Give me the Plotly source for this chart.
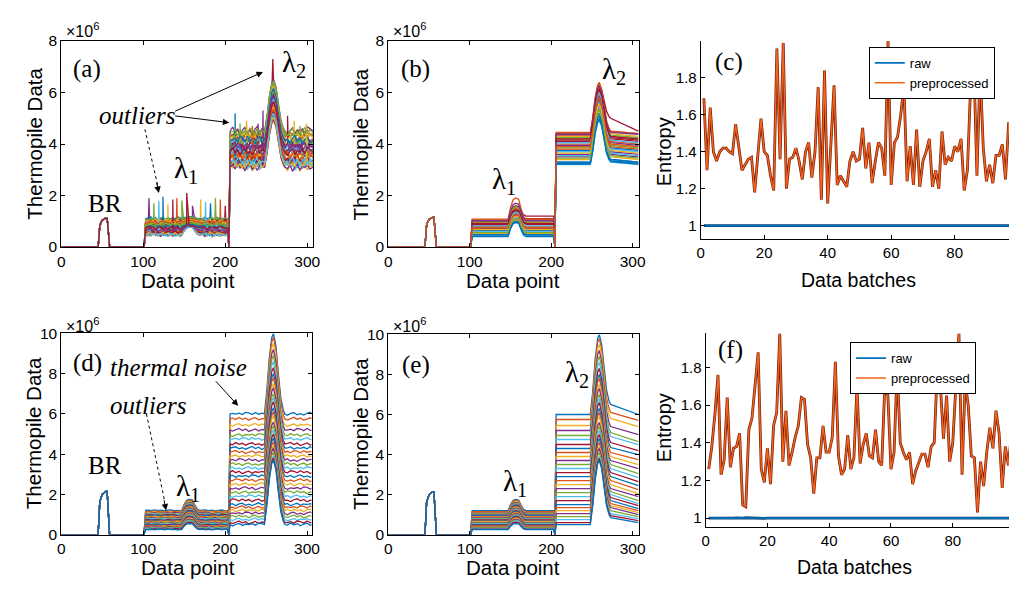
import plotly.graph_objects as go

W, H = 1018, 596
COLORS = ["#0072BD", "#D95319", "#EDB120", "#7E2F8E", "#77AC30", "#4DBEEE", "#A2142F"]
SANS = "Liberation Sans, Arial, sans-serif"
SERIF = "Liberation Serif, Times New Roman, serif"

# ---------------- shape templates ----------------
BR_X = [0, 45, 47, 50, 54, 56, 57.5, 59, 101]
BR_F = [0, 0, 0.75, 0.93, 1.0, 1.0, 0.5, 0, 0]
BUMP_X = [147, 150, 153, 156, 160, 163, 166, 169]
BUMP_F = [0, 0.55, 0.9, 1.0, 0.95, 0.5, 0.12, 0]
PEAK_X = [248, 251, 254, 257, 259, 262, 265, 268, 271]
PEAK_F = [0, 0.3, 0.7, 0.95, 1.0, 0.85, 0.5, 0.2, 0.05]
WIG = [0.6, -0.4, 0.9, -0.2, 0.5, -0.8, 0.3, 0.8, -0.5, 0.2, -0.7, 0.4,
       1.0, -0.3, 0.6, -0.9, 0.1, 0.7, -0.6, 0.3, -0.1, 0.5, -0.4, 0.9]

# ---------------- panel (a): raw data with outliers ----------------
a_BR = 1.12
a_L1 = [0.62, 0.95, 0.48, 1.05, 0.75, 0.55, 0.88, 1.10, 0.68, 0.45, 0.98, 0.58, 0.82, 1.02, 0.50, 0.72, 0.92, 0.65,
        1.08, 0.52, 0.85, 0.78, 0.60, 1.00, 0.47, 0.90, 0.70, 0.56, 0.80, 0.96, 0.50, 0.66, 0.86, 0.46, 0.74]
a_B1 = [0.78, 1.03, 0.78, 1.13, 0.83, 0.78, 0.96, 1.18, 0.78, 0.78, 1.06, 0.78, 0.90, 1.10, 0.78, 0.80, 1.00, 0.78,
        1.16, 0.78, 0.93, 0.86, 0.78, 1.08, 0.78, 0.98, 0.78, 0.78, 0.88, 1.04, 0.78, 0.78, 0.94, 0.78, 0.82]
a_L2 = [3.80, 4.40, 3.20, 4.10, 3.60, 3.30, 4.30, 3.90, 3.50, 3.10, 4.50, 3.40, 4.00, 3.70, 3.25, 4.20, 3.55, 3.85,
        4.35, 3.15, 3.95, 3.65, 3.45, 4.25, 3.10, 4.05, 3.75, 3.35, 4.15, 3.60, 3.20, 3.90, 4.45, 3.30, 3.70]
a_P2 = [5.80, 6.40, 5.00, 6.10, 5.50, 5.20, 6.30, 5.90, 5.40, 4.90, 6.50, 5.30, 6.00, 5.70, 5.10, 6.20, 5.45, 5.85,
        6.35, 5.00, 5.95, 5.60, 5.35, 6.25, 4.95, 6.05, 5.75, 5.25, 6.15, 5.55, 5.05, 5.90, 6.45, 5.20, 5.65]
a_spike_x = [107, 113, 119, 124, 130, 136, 141, 147, 153, 160, 170, 176, 182, 188, 194, 200,
             212, 218, 226, 233, 240, 246, 276, 284, 291, 299, 258]
a_spike_y = [1.90, 1.70, 1.80, 1.95, 1.65, 1.85, 1.90, 1.80, 2.10, 1.60, 1.85, 1.75, 1.70, 1.90, 1.85, 1.60,
             5.20, 4.80, 4.90, 4.70, 4.80, 5.30, 5.10, 4.90, 4.70, 4.80, 7.30]
a_spike_curve = [3, 11, 19, 21, 9, 27, 15, 4, 34, 10, 2, 26, 7, 18, 8, 13,
                 14, 25, 23, 29, 17, 24, 20, 16, 32, 30, 6]

# ---------------- panel (b): preprocessed ----------------
b_BR = 1.15
b_L1 = [0.45, 1.05, 0.70, 0.55, 0.90, 0.62, 1.00, 0.50, 0.80, 0.95, 0.58, 0.75, 0.42, 0.85, 0.65,
        1.08, 0.52, 0.72, 0.98, 0.60, 0.88, 0.48, 0.78, 0.68, 1.02, 0.56, 0.82, 0.92, 0.40, 0.74]
b_B1 = [1.30, 1.50, 1.20, 1.10, 1.40, 1.25, 1.60, 1.00, 1.35, 1.45, 1.15, 1.30, 1.00, 1.40, 1.20,
        1.90, 1.05, 1.25, 1.55, 1.15, 1.40, 1.00, 1.30, 1.20, 1.70, 1.10, 1.35, 1.45, 0.95, 1.25]
b_late = [0.45, 1.05, 0.70, 0.55, 0.90, 0.62, 1.20, 0.50, 0.80, 0.95, 0.58, 0.75, 0.42, 1.10, 0.65,
          1.08, 0.52, 0.72, 0.98, 0.60, 0.88, 0.48, 0.78, 0.68, 1.02, 0.56, 0.82, 0.92, 0.40, 0.74]
b_L2 = [3.30, 4.45, 3.90, 3.50, 4.20, 3.70, 4.35, 3.25, 4.00, 4.30, 3.60, 3.85, 3.20, 4.10, 3.75,
        4.40, 3.40, 3.95, 4.25, 3.55, 4.15, 3.30, 3.80, 3.65, 4.38, 3.45, 4.05, 4.20, 3.22, 3.90]
b_P2 = [5.20, 6.40, 5.90, 5.40, 6.10, 5.60, 6.30, 5.00, 5.95, 6.20, 5.50, 5.80, 4.90, 6.05, 5.70,
        6.35, 5.30, 5.85, 6.15, 5.45, 6.10, 5.10, 5.75, 5.55, 6.25, 5.35, 6.00, 6.15, 4.95, 5.80]
b_L3a = [3.40, 4.50, 4.00, 3.60, 4.30, 3.80, 5.00, 3.35, 4.10, 4.40, 3.70, 3.95, 3.30, 4.20, 3.85,
         4.50, 3.50, 4.05, 4.35, 3.65, 4.25, 3.40, 3.90, 3.75, 4.45, 3.55, 4.15, 4.30, 3.32, 4.00]
b_L3b = [3.30, 4.40, 3.90, 3.50, 4.20, 3.70, 4.50, 3.25, 4.00, 4.30, 3.60, 3.85, 3.20, 4.10, 3.75,
         4.40, 3.40, 3.95, 4.25, 3.55, 4.15, 3.30, 3.80, 3.65, 4.38, 3.45, 4.05, 4.20, 3.22, 3.90]

# ---------------- panels (d)/(e) ----------------
de_BR = 2.15
de_L1 = [1.20, 1.15, 1.10, 1.07, 1.03, 1.00, 0.97, 0.93, 0.90, 0.87, 0.83, 0.80, 0.77, 0.73, 0.70,
         0.67, 0.63, 0.60, 0.57, 0.53, 0.50, 0.47, 0.43, 0.40, 0.37, 0.33, 0.30, 0.27, 0.25]
de_B1 = [1.75, 1.70, 1.65, 1.60, 1.56, 1.52, 1.48, 1.44, 1.40, 1.36, 1.32, 1.28, 1.24, 1.20, 1.16,
         1.12, 1.08, 1.04, 1.00, 0.96, 0.92, 0.88, 0.84, 0.80, 0.76, 0.72, 0.68, 0.62, 0.55]
de_L2 = [6.00, 5.75, 5.45, 5.20, 4.95, 4.75, 4.50, 4.30, 4.10, 3.90, 3.70, 3.50, 3.30, 3.10, 2.90,
         2.70, 2.50, 2.30, 2.10, 1.90, 1.70, 1.50, 1.35, 1.20, 1.05, 0.90, 0.75, 0.60, 0.50]
de_P2 = [10.0, 9.80, 9.50, 9.20, 8.90, 8.60, 8.30, 8.00, 7.80, 7.50, 7.30, 7.00, 6.80, 6.60, 6.30,
         6.10, 5.90, 5.60, 5.40, 5.20, 5.00, 4.80, 4.60, 4.40, 4.30, 4.10, 3.90, 3.80, 3.70]
e_L3a = [6.50, 6.10, 5.80, 5.40, 5.10, 4.90, 4.60, 4.35, 4.10, 3.90, 3.70, 3.50, 3.30, 3.10, 2.90,
         2.70, 2.50, 2.30, 2.15, 2.00, 1.85, 1.70, 1.55, 1.45, 1.35, 1.20, 1.05, 0.95, 0.85]
e_L3b = [6.00, 5.70, 5.40, 5.00, 4.65, 4.50, 4.20, 4.00, 3.75, 3.50, 3.30, 3.05, 2.85, 2.65, 2.45,
         2.25, 2.05, 1.90, 1.70, 1.55, 1.45, 1.30, 1.20, 1.10, 1.00, 0.90, 0.80, 0.70, 0.60]

# ---------------- panels (c)/(f): entropy per batch ----------------
c_pre = [1.69, 1.30, 1.64, 1.40, 1.35, 1.40, 1.42, 1.42, 1.40, 1.39,
         1.55, 1.42, 1.30, 1.33, 1.36, 1.37, 1.18, 1.38, 1.58, 1.40,
         1.38, 1.27, 1.19, 1.96, 1.36, 1.99, 1.20, 1.36, 1.37, 1.42,
         1.35, 1.25, 1.40, 1.45, 1.26, 1.40, 1.75, 1.14, 1.84, 1.12,
         1.45, 1.76, 1.22, 1.27, 1.24, 1.21, 1.35, 1.40, 1.35, 1.36,
         1.53, 1.31, 1.45, 1.23, 1.35, 1.45, 1.42, 1.27, 2.00, 1.22,
         1.45, 1.48, 1.60, 1.76, 1.24, 1.43, 1.22, 1.52, 1.21, 1.35,
         1.40, 1.47, 1.21, 1.30, 1.20, 1.51, 1.33, 1.37, 1.35, 1.43,
         1.40, 1.47, 1.19, 1.30, 1.75, 1.90, 1.27, 1.85, 1.42, 1.24,
         1.33, 1.23, 1.38, 1.38, 1.44, 1.25, 1.56, 1.35]
c_raw = [1.000, 1.000, 0.999, 1.000, 1.000, 1.001, 1.000, 0.999, 1.000, 1.000,
         1.000, 1.000, 0.998, 1.000, 1.000, 1.000, 1.001, 1.000, 1.000, 0.999,
         1.000, 1.000, 1.000, 1.001, 1.000, 0.999, 1.000, 1.000, 1.000, 1.000,
         1.000, 1.001, 1.000, 1.000, 0.999, 1.000, 1.000, 1.000, 0.998, 1.000,
         1.000, 1.000, 1.001, 1.000, 1.000, 1.000, 0.999, 1.000, 1.000, 1.000,
         1.001, 1.000, 1.000, 0.998, 1.000, 0.998, 1.000, 1.000, 1.001, 1.000,
         1.000, 0.999, 1.000, 1.000, 1.000, 1.001, 1.000, 1.000, 0.999, 1.000,
         1.000, 1.000, 1.000, 1.001, 1.000, 1.000, 0.999, 1.000, 1.000, 1.000,
         1.000, 1.001, 1.000, 1.000, 1.000, 0.999, 1.000, 1.000, 1.000, 1.000,
         1.001, 1.000, 1.000, 0.999, 1.000, 1.000, 1.000, 1.000]
f_pre = [1.26, 1.38, 1.55, 1.76, 1.23, 1.31, 1.64, 1.27, 1.37, 1.38,
         1.45, 1.07, 1.06, 1.47, 1.53, 1.70, 1.88, 1.26, 1.19, 1.37,
         1.18, 1.49, 1.56, 1.98, 1.30, 1.57, 1.28, 1.35, 1.43, 1.49,
         1.64, 1.63, 1.39, 1.32, 1.13, 1.32, 1.32, 1.49, 1.35, 1.35,
         1.43, 1.83, 1.33, 1.23, 1.26, 1.44, 1.26, 1.32, 1.70, 1.29,
         1.39, 1.45, 1.33, 1.32, 1.47, 1.30, 1.28, 1.70, 1.65, 1.26,
         1.35, 1.80, 1.40, 1.35, 1.31, 1.35, 1.18, 1.25, 1.30, 1.34,
         1.34, 1.27, 1.38, 1.40, 1.80, 1.70, 1.42, 1.65, 1.30, 1.40,
         1.70, 1.98, 1.23, 1.72, 1.60, 1.33, 1.32, 1.03, 1.30, 1.17,
         1.35, 1.48, 1.37, 1.57, 1.45, 1.16, 1.38, 1.28, 1.45]
f_raw = [1.000, 0.999, 1.000, 1.001, 1.000, 1.000, 0.999, 1.000, 1.000, 1.001,
         1.000, 1.000, 1.002, 1.001, 1.000, 0.999, 1.000, 1.000, 0.999, 1.000,
         1.000, 1.001, 1.000, 1.000, 0.999, 1.000, 1.000, 1.000, 1.001, 1.000,
         1.000, 0.999, 1.000, 1.000, 1.000, 1.001, 1.000, 1.000, 1.000, 0.999,
         1.000, 1.000, 1.001, 1.000, 0.999, 1.000, 1.000, 1.000, 1.001, 1.000,
         1.000, 1.000, 0.999, 1.000, 1.000, 1.001, 1.000, 1.000, 1.000, 0.999,
         1.000, 1.001, 1.000, 1.000, 1.000, 0.999, 1.000, 1.001, 1.000, 1.000,
         1.000, 1.000, 0.999, 1.000, 1.001, 1.000, 1.000, 1.000, 0.999, 1.000,
         1.000, 0.998, 1.000, 1.000, 1.000, 1.001, 1.000, 0.999, 1.000, 0.999,
         1.000, 1.000, 1.001, 1.000, 1.000, 1.000, 0.999, 1.000, 1.000]


def build(br, l1, b1, late, l2, p2, l3a, l3b, k, amp1=0.0, amp2=0.0, step=4, spikes=()):
    pts = [(x, br * f) for x, f in zip(BR_X, BR_F)]
    pts.append((103, l1))
    j = 5 * k
    n = len(WIG)
    for x in range(106, 147, step):
        pts.append((x, l1 + amp1 * WIG[j % n])); j += 1
    for x, f in zip(BUMP_X, BUMP_F):
        base = l1 if x <= 156 else late
        pts.append((x, base + (b1 - base) * f))
    for x in range(172, 202, step):
        pts.append((x, late + amp1 * WIG[j % n])); j += 1
    pts += [(203, late), (204.5, 0), (206, l2)]
    for x in range(209, 247, step):
        pts.append((x, l2 + amp2 * WIG[j % n])); j += 1
    for x, f in zip(PEAK_X, PEAK_F):
        base = l2 if x <= 259 else l3a
        pts.append((x, base + (p2 - base) * f))
    pts.append((273, l3a))
    if amp2 > 0:
        for x in range(276, 306, step):
            pts.append((x, l3a + amp2 * WIG[j % n])); j += 1
    pts.append((307, l3b))
    for sx, sy in spikes:
        if 147 <= sx <= 169 or 248 <= sx <= 271:
            pts.append((sx, sy))
        else:
            base = late if sx < 204 else (l2 if sx < 248 else l3a)
            pts += [(sx - 0.7, base), (sx, sy), (sx + 0.7, base)]
    pts.sort(key=lambda p: p[0])
    return [p[0] for p in pts], [p[1] for p in pts]


fig = go.Figure()


def add_line(xs, ys, k, ax):
    fig.add_trace(go.Scatter(x=xs, y=ys, mode="lines", line=dict(color=COLORS[k % 7], width=1.3),
                             xaxis="x" + ax, yaxis="y" + ax, showlegend=False, hoverinfo="skip"))


for k in range(len(a_L1)):
    sp = [(sx, sy) for sx, sy, c in zip(a_spike_x, a_spike_y, a_spike_curve) if c == k]
    xs, ys = build(a_BR, a_L1[k], a_B1[k], a_L1[k], a_L2[k], a_P2[k], a_L2[k], a_L2[k], k,
                   amp1=0.07, amp2=0.18, step=3, spikes=sp)
    add_line(xs, ys, k, "")
for k in range(len(b_L1)):
    xs, ys = build(b_BR, b_L1[k], b_B1[k], b_late[k], b_L2[k], b_P2[k], b_L3a[k], b_L3b[k], k)
    add_line(xs, ys, k, "2")
for k in range(len(de_L1)):
    xs, ys = build(de_BR, de_L1[k], de_B1[k], de_L1[k], de_L2[k], de_P2[k], de_L2[k], de_L2[k], k,
                   amp1=0.03, amp2=0.08, step=4)
    add_line(xs, ys, k, "4")
for k in range(len(de_L1)):
    xs, ys = build(de_BR, de_L1[k], de_B1[k], de_L1[k], de_L2[k], de_P2[k], e_L3a[k], e_L3b[k], k)
    add_line(xs, ys, k, "5")

for pre, raw, ax, lg in [(c_pre, c_raw, "3", "legend"), (f_pre, f_raw, "6", "legend2")]:
    bx = list(range(1, len(pre) + 1))
    rx = list(range(1, len(raw) + 1))
    fig.add_trace(go.Scatter(x=rx, y=raw, mode="lines", line=dict(color="#123F66", width=2.8),
                             xaxis="x" + ax, yaxis="y" + ax, showlegend=False, hoverinfo="skip"))
    fig.add_trace(go.Scatter(x=rx, y=raw, mode="lines", name="raw", line=dict(color="#0072BD", width=1.6),
                             xaxis="x" + ax, yaxis="y" + ax, legend=lg, hoverinfo="skip"))
    fig.add_trace(go.Scatter(x=bx, y=pre, mode="lines", line=dict(color="#7A1E06", width=2.8),
                             xaxis="x" + ax, yaxis="y" + ax, showlegend=False, hoverinfo="skip"))
    fig.add_trace(go.Scatter(x=bx, y=pre, mode="lines", name="preprocessed",
                             line=dict(color="#F4641E", width=1.4),
                             xaxis="x" + ax, yaxis="y" + ax, legend=lg, hoverinfo="skip"))


def px(v):
    return min(1.0, max(0.0, v / W))


def py(v):
    return min(1.0, max(0.0, 1 - v / H))


def xax(dom, rng, tv, anchor, mirror=True, size=15.5):
    return dict(domain=[px(dom[0]), px(dom[1])], range=rng, tickvals=tv, anchor=anchor,
                showline=True, linecolor="black", linewidth=1, mirror="ticks" if mirror else False,
                ticks="inside", ticklen=4, tickcolor="black", showgrid=False, zeroline=False,
                tickfont=dict(family=SANS, size=size, color="black"), fixedrange=True)


def yax(dom, rng, tv, anchor, mirror=True, size=15.5, tt=None):
    d = dict(domain=[py(dom[1]), py(dom[0])], range=rng, tickvals=tv, anchor=anchor,
             showline=True, linecolor="black", linewidth=1, mirror="ticks" if mirror else False,
             ticks="inside", ticklen=4, tickcolor="black", showgrid=False, zeroline=False,
             tickfont=dict(family=SANS, size=size, color="black"), fixedrange=True)
    if tt:
        d["ticktext"] = tt
    return d


XT = [0, 100, 200, 300]
ET = [1, 1.2, 1.4, 1.6, 1.8]
ETT = ["1", "1.2", "1.4", "1.6", "1.8"]
fig.update_layout(
    width=W, height=H, margin=dict(l=0, r=0, t=0, b=0),
    paper_bgcolor="white", plot_bgcolor="white",
    xaxis=xax((58, 313), [0, 307], XT, "y"),
    yaxis=yax((33, 245), [0, 8], [0, 2, 4, 6, 8], "x"),
    xaxis2=xax((389.3, 643), [0, 307.5], XT, "y2"),
    yaxis2=yax((33, 245), [0, 8], [0, 2, 4, 6, 8], "x2"),
    xaxis3=xax((705.7, 1018), [0, 97.1], [0, 20, 40, 60, 80], "y3", mirror=False, size=15),
    yaxis3=yax((33, 237), [0.926, 2.0], ET, "x3", mirror=False, size=15, tt=ETT),
    xaxis4=xax((58, 311.5), [0, 305.5], XT, "y4"),
    yaxis4=yax((334, 541), [0, 10], [0, 2, 4, 6, 8, 10], "x4"),
    xaxis5=xax((389.3, 643), [0, 307.5], XT, "y5"),
    yaxis5=yax((335, 541), [0, 10], [0, 2, 4, 6, 8, 10], "x5"),
    xaxis6=xax((710.7, 1018), [0, 98.2], [0, 20, 40, 60, 80], "y6", mirror=False, size=15),
    yaxis6=yax((334, 533), [0.954, 1.98], ET, "x6", mirror=False, size=15, tt=ETT),
    legend=dict(x=px(876), y=py(39), xanchor="left", yanchor="top", bgcolor="white",
                bordercolor="black", borderwidth=1, font=dict(family=SANS, size=13, color="black"),
                tracegroupgap=0),
    legend2=dict(x=px(857), y=py(343), xanchor="left", yanchor="top", bgcolor="white",
                 bordercolor="black", borderwidth=1, font=dict(family=SANS, size=13, color="black"),
                 tracegroupgap=0),
)

ann = []


def text(t, x, y, xr, yr, size=25, family=SERIF, **kw):
    d = dict(text=t, x=x, y=y, xref=xr, yref=yr, showarrow=False, xanchor="center", yanchor="middle",
             font=dict(family=family, size=size, color="black"))
    d.update(kw)
    ann.append(d)


def ptext(t, cx, cy, size=20.5, **kw):
    text(t, px(cx), py(cy), "paper", "paper", size=size, family=SANS, **kw)


for cx, cy in [(186, 279), (516, 279), (186, 575), (516, 575)]:
    ptext("Data point", cx, cy)
for cx, cy in [(866, 279), (862, 574)]:
    ptext("Data batches", cx, cy, size=19.5)
for cx, cy in [(30, 139), (361, 139), (30, 437), (361, 437)]:
    ptext("Thermopile Data", cx, cy, textangle=-90)
for cx, cy in [(668, 147), (668, 431)]:
    ptext("Entropy", cx, cy, size=20, textangle=-90)
for cx, cy in [(80, 22), (411, 22), (80, 325), (411, 325)]:
    ptext("×10<sup>6</sup>", cx, cy, size=16)

# panel a
text("(a)", 31, 6.9, "x", "y")
text("λ<sub>2</sub>", 284, 7.1, "x", "y", size=29)
text("λ<sub>1</sub>", 152, 3.0, "x", "y", size=29)
text("BR", 53, 1.7, "x", "y")
text("<i>outliers</i>", 92, 5.09, "x", "y", size=25)
# panel b
text("(b)", 33.6, 6.9, "x2", "y2")
text("λ<sub>2</sub>", 277, 6.85, "x2", "y2", size=29)
text("λ<sub>1</sub>", 141.5, 2.55, "x2", "y2", size=29)
# panel c
text("(c)", 9.0, 1.884, "x3", "y3")
# panel d
text("(d)", 32.5, 8.55, "x4", "y4")
text("<i>thermal noise</i>", 143, 8.3, "x4", "y4")
text("<i>outliers</i>", 106, 6.43, "x4", "y4")
text("BR", 53, 3.43, "x4", "y4")
text("λ<sub>1</sub>", 155, 2.3, "x4", "y4", size=29)
# panel e
text("(e)", 34.3, 8.45, "x5", "y5")
text("λ<sub>2</sub>", 232, 8.0, "x5", "y5", size=29)
text("λ<sub>1</sub>", 155.5, 2.6, "x5", "y5", size=29)
# panel f
text("(f)", 8.1, 1.893, "x6", "y6")


def arrow(x, y, ax, ay, xr, yr):
    ann.append(dict(x=x, y=y, ax=ax, ay=ay, xref=xr, yref=yr, axref=xr, ayref=yr, text="",
                    showarrow=True, arrowhead=2, arrowsize=1.3, arrowwidth=1, arrowcolor="black"))


def short_arrow(x, y, ax, ay, xr, yr):
    ann.append(dict(x=x, y=y, ax=ax, ay=ay, xref=xr, yref=yr, text="",
                    showarrow=True, arrowhead=2, arrowsize=1.3, arrowwidth=1, arrowcolor="black"))


arrow(246, 6.8, 137, 5.25, "x", "y")
arrow(205, 4.83, 137, 5.1, "x", "y")
arrow(216, 6.4, 187, 7.7, "x4", "y4")
short_arrow(119, 2.1, -2.5, -11.7, "x", "y")
short_arrow(128, 1.2, -2.4, -11.8, "x4", "y4")
fig.update_layout(annotations=ann)

fig.add_shape(type="line", x0=102, y0=4.57, x1=117.5, y1=2.4, xref="x", yref="y",
              line=dict(color="black", width=1, dash="dot"))
fig.add_shape(type="line", x0=104, y0=6.0, x1=126, y1=1.7, xref="x4", yref="y4",
              line=dict(color="black", width=1, dash="dot"))

# pin the figure to the page corner so the 1018x596 window shows it 1:1
PIN = ("document.documentElement.style.margin='0';document.body.style.margin='0';"
       "document.documentElement.style.overflow='hidden';document.body.style.overflow='hidden';"
       "var gd=document.getElementById('{plot_id}');gd.style.position='fixed';"
       "gd.style.left='0px';gd.style.top='0px';")
fig.write_html("out.html", post_script=PIN, config={"displayModeBar": False})
